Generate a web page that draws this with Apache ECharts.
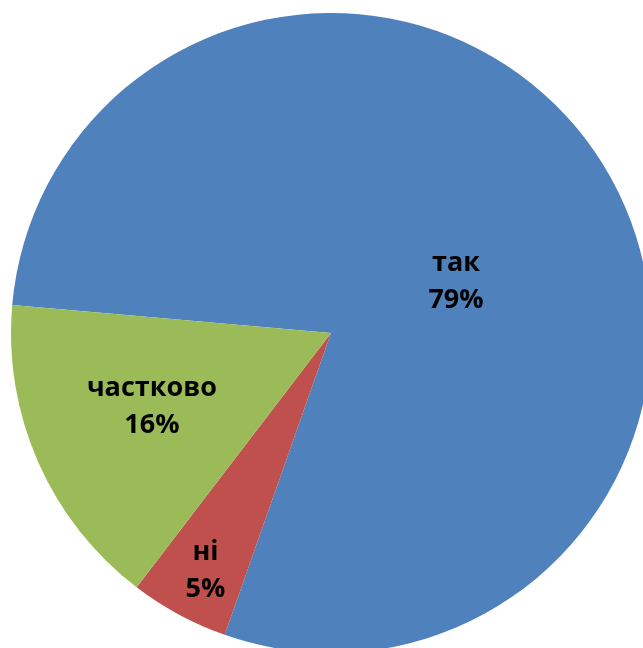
<!DOCTYPE html>
<html>
<head>
<meta charset="utf-8">
<script src="https://cdn.jsdelivr.net/npm/echarts@6/dist/echarts.min.js"></script>
<style>
html,body{margin:0;padding:0;background:#fff;}
#chart{width:643px;height:648px;}
</style>
</head>
<body>
<div id="chart"></div>
<script>
// дані діаграми
var names = ['так', 'ні', 'частково'];
var values = [79, 5, 16];
var colors = ['#4F81BD', '#C0504D', '#9BBB59'];
// зсув підписів (як у Excel)
var labelOffsets = [[-12, 37], [-48, 94], [-30, 8]];

var chart = echarts.init(document.getElementById('chart'));

var data = names.map(function (n, i) {
    return {
        name: n,
        value: values[i],
        itemStyle: { color: colors[i] },
        label: { offset: labelOffsets[i] }
    };
});

chart.setOption({
    animation: false,
    series: [{
        type: 'pie',
        center: [331, 333],
        radius: 320,
        startAngle: 175,
        clockwise: true,
        data: data,
        itemStyle: { borderWidth: 0 },
        label: {
            show: true,
            position: 'inside',
            formatter: '{b}\n{d}%',
            fontFamily: 'Open Sans',
            fontWeight: 'bold',
            fontSize: 27,
            lineHeight: 37,
            color: '#000'
        },
        labelLine: { show: false }
    }]
});
</script>
</body>
</html>
